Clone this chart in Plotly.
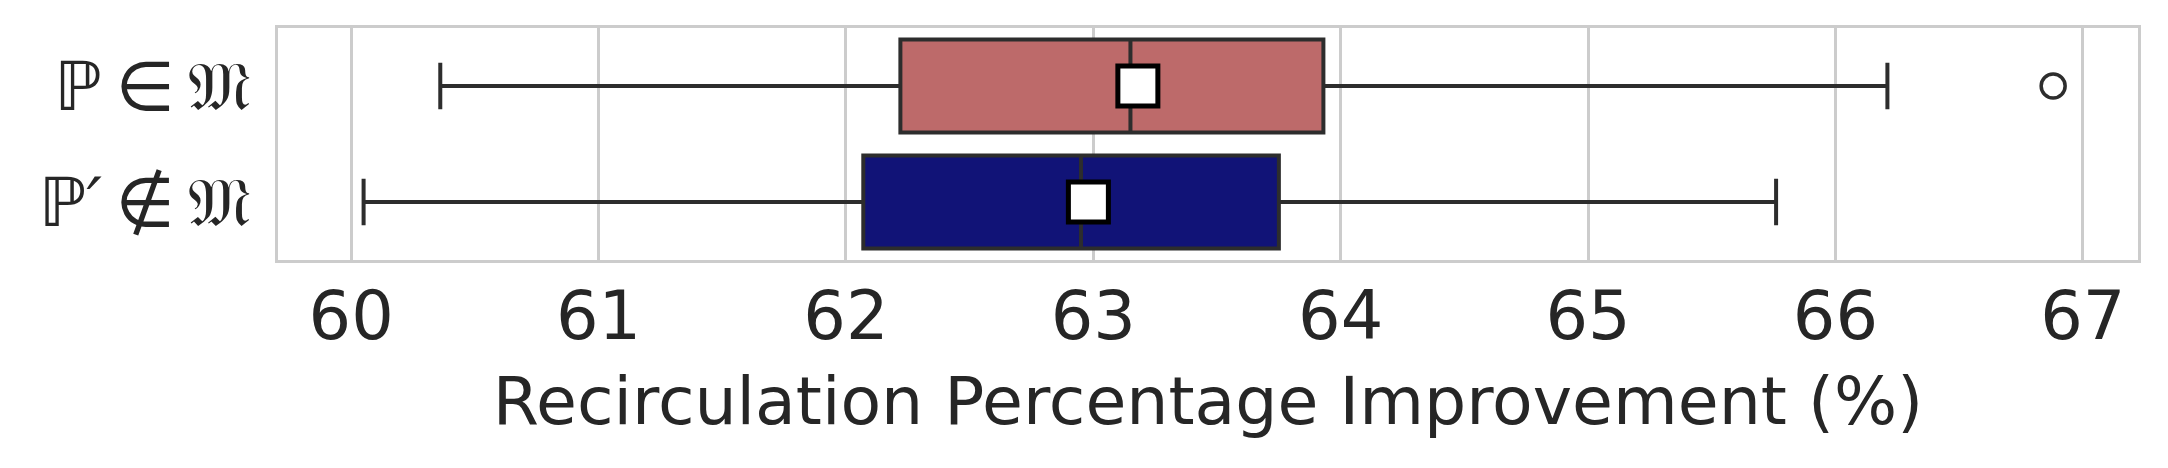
import plotly.graph_objects as go

# categories, top to bottom
groups = ["ℙ ∈ 𝔐", "ℙ′ ∉ 𝔐"]
group_labels = ["<i>ℙ</i>\u2009∈\u2009𝔐", "<i>ℙ′</i>\u2009∉\u2009𝔐"]
box_colors = ["#bd6a6a", "#111377"]

# box statistics
lower_whisker = [60.36, 60.05]
q1 = [62.22, 62.07]
median = [63.15, 62.95]
q3 = [63.93, 63.75]
upper_whisker = [66.21, 65.76]
means = [63.18, 62.98]

# fliers
outlier_group = ["ℙ ∈ 𝔐"]
outlier_value = [66.88]

x_ticks = [60, 61, 62, 63, 64, 65, 66, 67]

edge = "#2d2d2d"

fig = go.Figure()

for i, g in enumerate(groups):
    fig.add_trace(go.Box(
        y=[g],
        q1=[q1[i]], median=[median[i]], q3=[q3[i]],
        lowerfence=[lower_whisker[i]], upperfence=[upper_whisker[i]],
        orientation="h",
        fillcolor=box_colors[i],
        line=dict(color=edge, width=4),
        width=0.8,
        whiskerwidth=0.5,
        boxpoints=False,
        showlegend=False,
        hoverinfo="skip",
    ))

fig.add_trace(go.Scatter(
    x=means, y=groups, mode="markers",
    marker=dict(symbol="square", size=40, color="white",
                line=dict(color="black", width=5)),
    showlegend=False,
))

fig.add_trace(go.Scatter(
    x=outlier_value, y=outlier_group, mode="markers",
    marker=dict(symbol="circle-open", size=24, color=edge,
                line=dict(color=edge, width=3.5)),
    showlegend=False,
))

# page body adds an 8px offset, so the figure is drawn 8px smaller
fig.update_layout(
    width=2160, height=460,
    margin=dict(l=270, r=30, t=20, b=208),
    plot_bgcolor="white", paper_bgcolor="white",
    font=dict(family="DejaVu Sans", color="#262626"),
)

fig.update_xaxes(
    range=[59.704, 67.223],
    tickvals=x_ticks,
    ticktext=[str(t) for t in x_ticks],
    tickfont=dict(size=67, color="#262626"),
    showgrid=True, gridcolor="#cccccc", gridwidth=3,
    zeroline=False, automargin=False,
    showline=True, mirror=True, linecolor="#cccccc", linewidth=3,
    ticks="", ticklabelstandoff=-4,
    title=dict(text="Recirculation Percentage Improvement (%)",
               font=dict(size=66.5, color="#262626"), standoff=24),
)

fig.update_yaxes(
    categoryorder="array", categoryarray=groups,
    tickvals=groups, ticktext=group_labels,
    range=[1.5, -0.5],
    tickfont=dict(size=68, color="#262626"),
    showgrid=False, zeroline=False, automargin=False,
    showline=True, mirror=True, linecolor="#cccccc", linewidth=3,
    ticks="", ticklabelstandoff=10,
)

fig.write_html("out.html")
